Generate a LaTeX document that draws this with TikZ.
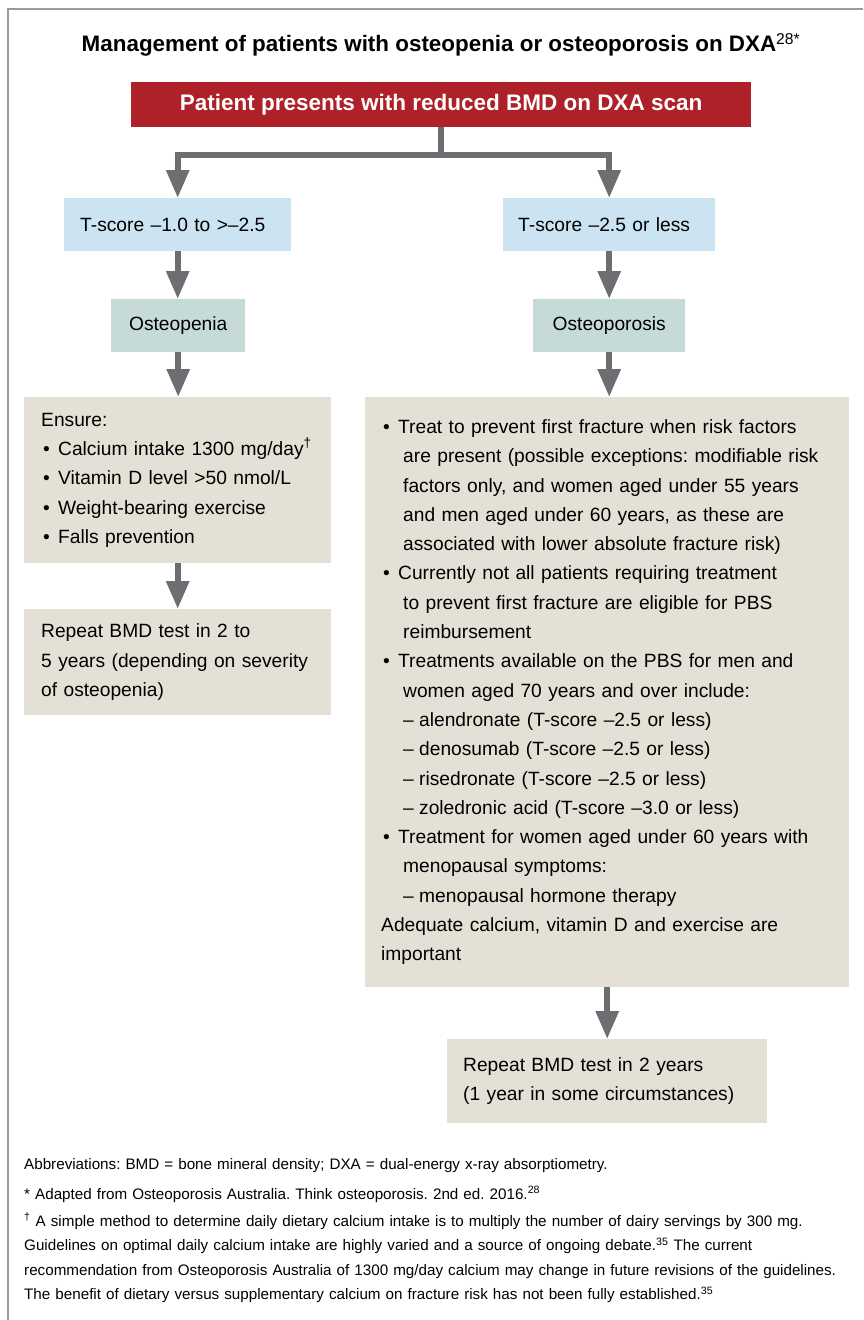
\documentclass[tikz,border=0pt]{standalone}
\usepackage{fontspec}
\setmainfont{Liberation Sans}
\usetikzlibrary{arrows.meta}
\frenchspacing

\definecolor{scanred}{HTML}{AE2129}
\definecolor{scoreblue}{HTML}{CCE4F1}
\definecolor{diaggreen}{HTML}{C6DAD8}
\definecolor{plancream}{HTML}{E5E0D6}
\definecolor{arrowgrey}{HTML}{6D6E71}
\definecolor{framegrey}{HTML}{9B9B9B}

\newcommand{\bul}{\hspace*{2pt}\makebox[15pt][l]{•}}
\newcommand{\indt}{\hspace*{22pt}}
\newcommand{\subitm}{\hspace*{22pt}\makebox[16pt][l]{–}}

\begin{document}
\begin{tikzpicture}[x=1pt, y=-1pt, >={Triangle[width=22pt,length=28pt]},
    body/.style={font=\fontsize{19.2}{29.3}\selectfont},
    flow/.style={draw=arrowgrey, line width=6pt},
    score/.style={body, fill=scoreblue, anchor=north west, inner xsep=16pt, inner ysep=0pt, minimum height=53pt, align=left},
    diag/.style={body, fill=diaggreen, anchor=north west, inner sep=0pt, minimum height=53pt},
    plan/.style={body, fill=plancream, anchor=north west, inner xsep=17pt, inner ysep=0pt, align=left}]

  \useasboundingbox (0,0) rectangle (863,1320);
  % frame, top and left only
  \draw[framegrey, line width=1.5pt] (8,1320) -- (8,9) -- (863,9);

  % heading
  \node (title) at (441,45) {\fontsize{22.4}{26}\selectfont\bfseries Management of patients with osteopenia or osteoporosis on DXA\textsuperscript{\mdseries 28*}};
  \node[fill=scanred, text=white, anchor=north west, minimum width=620pt, minimum height=45pt, inner sep=0pt,
        font=\fontsize{22.5}{26}\selectfont\bfseries] (start) at (131,82) {Patient presents with reduced BMD on DXA scan};

  % T-score and diagnosis
  \node[score, text width=195pt] (tsl) at (64,198) {T-score –1.0 to >–2.5};
  \node[score, text width=182pt, inner xsep=15pt] (tsr) at (503,198) {T-score –2.5 or less};
  \node[diag, minimum width=134pt] (penia) at (111,299) {Osteopenia};
  \node[diag, minimum width=152pt] (rosis) at (533,299) {Osteoporosis};

  % left branch
  \node[plan, text width=273pt, minimum height=166pt] (ensure) at (24,397) {Ensure:\\
    \bul Calcium intake 1300 mg/day\textsuperscript{†}\\
    \bul Vitamin D level >50 nmol/L\\
    \bul Weight-bearing exercise\\
    \bul Falls prevention};
  \node[plan, text width=273pt, minimum height=106pt] (replt) at (24,609) {Repeat BMD test in 2 to\\
    5 years (depending on severity\\
    of osteopenia)};

  % right branch
  \node[plan, text width=452pt, inner xsep=16pt, minimum height=590pt] (treat) at (365,397) {%
    \bul Treat to prevent first fracture when risk factors\\
    \indt are present (possible exceptions: modifiable risk\\
    \indt factors only, and women aged under 55 years\\
    \indt and men aged under 60 years, as these are\\
    \indt associated with lower absolute fracture risk)\\
    \bul Currently not all patients requiring treatment\\
    \indt to prevent first fracture are eligible for PBS\\
    \indt reimbursement\\
    \bul Treatments available on the PBS for men and\\
    \indt women aged 70 years and over include:\\
    \subitm alendronate (T-score –2.5 or less)\\
    \subitm denosumab (T-score –2.5 or less)\\
    \subitm risedronate (T-score –2.5 or less)\\
    \subitm zoledronic acid (T-score –3.0 or less)\\
    \bul Treatment for women aged under 60 years with\\
    \indt menopausal symptoms:\\
    \subitm menopausal hormone therapy\\
    Adequate calcium, vitamin D and exercise are\\
    important};
  \node[plan, text width=288pt, inner xsep=16pt, minimum height=84pt] (reprt) at (447,1039) {Repeat BMD test in 2 years\\
    (1 year in some circumstances)};

  % connectors
  \draw[flow] (start.south) -- ++(0,28) coordinate (fork);
  \draw[flow,->] (fork) -| (tsl.north);
  \draw[flow,->] (fork) -| (tsr.north);
  \draw[flow,->] (tsl.south) -- (tsl.south |- penia.north);
  \draw[flow,->] (penia.south) -- (penia.south |- ensure.north);
  \draw[flow,->] (ensure.south) -- (ensure.south |- replt.north);
  \draw[flow,->] (tsr.south) -- (tsr.south |- rosis.north);
  \draw[flow,->] (rosis.south) -- (rosis.south |- treat.north);
  \draw[flow,->] (treat.south) -- (treat.south |- reprt.north);

  % notes
  \node[anchor=base west, inner sep=0pt, text width=836pt, align=left,
        font=\fontsize{15.2}{24.5}\selectfont] (notes) at (24,1169) {%
    Abbreviations: BMD = bone mineral density; DXA = dual-energy x-ray absorptiometry.\\[5.5pt]
    * Adapted from Osteoporosis Australia. Think osteoporosis. 2nd ed. 2016.\textsuperscript{28}\\[2.5pt]
    \textsuperscript{†} A simple method to determine daily dietary calcium intake is to multiply the number of dairy servings by 300 mg.\\
    Guidelines on optimal daily calcium intake are highly varied and a source of ongoing debate.\textsuperscript{35} The current\\
    recommendation from Osteoporosis Australia of 1300 mg/day calcium may change in future revisions of the guidelines.\\
    The benefit of dietary versus supplementary calcium on fracture risk has not been fully established.\textsuperscript{35}};
\end{tikzpicture}
\end{document}
